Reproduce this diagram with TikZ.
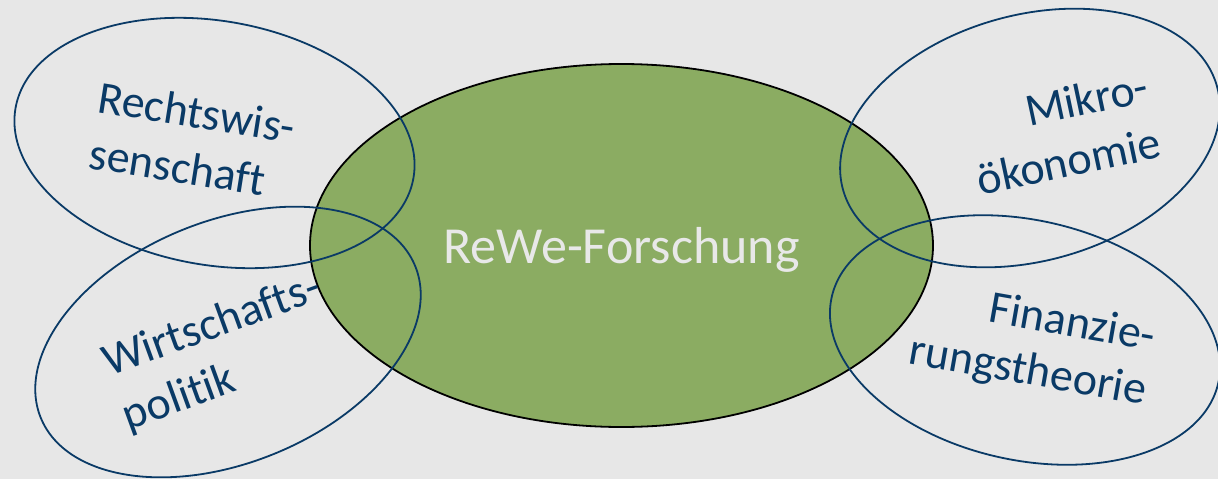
\documentclass[tikz,border=0pt]{standalone}
\usepackage{fontspec}
\setmainfont{Carlito}[Ligatures=NoCommon]
\usetikzlibrary{shapes.geometric}
\definecolor{bg}{RGB}{231,231,231}
\definecolor{leaf}{RGB}{139,172,98}
\definecolor{navy}{RGB}{10,58,102}
\definecolor{pale}{RGB}{232,232,232}
\begin{document}
\begin{tikzpicture}[x=0.75pt,y=-0.75pt,
  core/.style={ellipse, draw=black, line width=1.35pt, fill=leaf, inner sep=0pt},
  field/.style={ellipse, draw=navy, line width=1.35pt, inner sep=0pt},
  lbl/.style={text=navy, font=\fontsize{34.5}{41}\selectfont, inner sep=0pt},
  corelbl/.style={text=pale, font=\fontsize{39}{47}\selectfont, inner sep=0pt}
  ]
\fill[bg] (0,0) rectangle (1218,479);
\useasboundingbox (0,0) rectangle (1218,479);
\node[core, minimum width=467.25pt, minimum height=272.25pt] (core) at (621.5,245.5) {};
\node[field, minimum width=303pt, minimum height=183pt, rotate=-10] (rw) at (214.5,143) {};
\node[field, minimum width=303pt, minimum height=181.5pt, rotate=22] (wp) at (228,342) {};
\node[field, minimum width=291pt, minimum height=184.5pt, rotate=15.4] (mk) at (1030,138) {};
\node[field, minimum width=297pt, minimum height=180pt, rotate=-12.5] (ft) at (1025,340) {};
\node[lbl, anchor=base west, rotate=-9] (rw1) at (96,112) {Rechtswis-};
\node[lbl, anchor=base west, rotate=-9] (rw2) at (87,168) {senschaft};
\node[lbl, anchor=base west, rotate=20] (wp1) at (109,377) {Wirtschafts-};
\node[lbl, anchor=base west, rotate=20] (wp2) at (128.5,430.5) {politik};
\node[lbl, anchor=base east, rotate=12] (mk1) at (1151,101) {Mikro-};
\node[lbl, anchor=base east, rotate=12] (mk2) at (1163,157) {ökonomie};
\node[lbl, anchor=base east, rotate=-10] (ft1) at (1153,351) {Finanzie-};
\node[lbl, anchor=base east, rotate=-10] (ft2) at (1144,405) {rungstheorie};
\node[corelbl, anchor=base] (rewe) at (621.5,263) {ReWe-Forschung};
\end{tikzpicture}
\end{document}
